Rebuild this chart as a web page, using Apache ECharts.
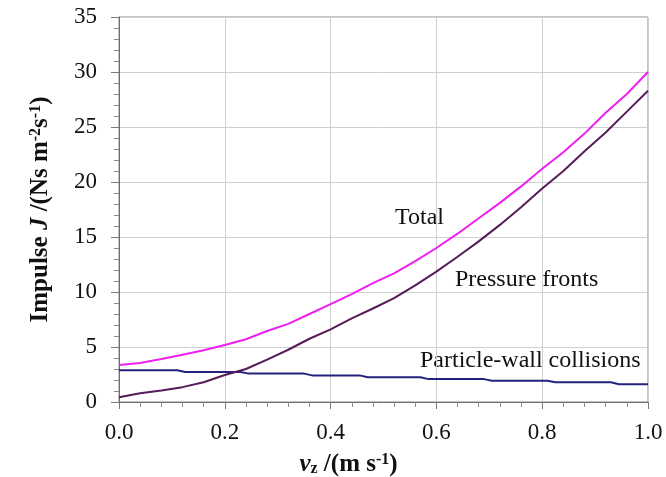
<!DOCTYPE html>
<html>
<head>
<meta charset="utf-8">
<script src="https://cdn.jsdelivr.net/npm/echarts@6/dist/echarts.min.js"></script>
<style>
  html, body { margin: 0; padding: 0; background: #fff; }
  #chart { width: 666px; height: 477px; }
</style>
</head>
<body>
<div id="chart"></div>
<script>
// v_z (m/s) sample points
var vz = [0, 0.04, 0.08, 0.12, 0.16, 0.20, 0.24, 0.28, 0.32, 0.36, 0.40, 0.44, 0.48,
          0.52, 0.56, 0.60, 0.64, 0.68, 0.72, 0.76, 0.80, 0.84, 0.88, 0.92, 0.96, 1.00];
// impulse, total
var totalJ = [3.36, 3.55, 3.9, 4.3, 4.7, 5.18, 5.7, 6.45, 7.1, 8.0, 8.9, 9.8, 10.8,
              11.7, 12.8, 14.0, 15.3, 16.7, 18.1, 19.6, 21.2, 22.7, 24.4, 26.3, 28.0, 30.0];
// impulse, pressure fronts
var pressureJ = [0.43, 0.8, 1.05, 1.35, 1.8, 2.45, 3.0, 3.85, 4.75, 5.75, 6.6, 7.6, 8.5,
                 9.45, 10.6, 11.85, 13.2, 14.6, 16.1, 17.7, 19.4, 21.0, 22.8, 24.5, 26.4, 28.3];
// particle-wall collisions (stepwise)
var wallV = [0, 0.11, 0.125, 0.23, 0.245, 0.35, 0.365, 0.455, 0.47, 0.57, 0.585, 0.69,
             0.705, 0.81, 0.825, 0.93, 0.945, 1.0];
var wallJ = [2.88, 2.88, 2.72, 2.72, 2.58, 2.58, 2.42, 2.42, 2.25, 2.25, 2.08, 2.08,
             1.94, 1.94, 1.8, 1.8, 1.62, 1.62];

var xTicks = [0, 0.2, 0.4, 0.6, 0.8, 1.0];
var yTicks = [0, 5, 10, 15, 20, 25, 30, 35];

function pairs(xs, ys) {
    var out = [];
    for (var i = 0; i < xs.length; i++) out.push([xs[i], ys[i]]);
    return out;
}

var serif = 'Liberation Serif';
var chart = echarts.init(document.getElementById('chart'));

// rich styles for the axis titles
var bold = { fontFamily: serif, fontSize: 25, fontWeight: 'bold', color: '#111' };
var boldIt = { fontFamily: serif, fontSize: 25, fontWeight: 'bold', fontStyle: 'italic', color: '#111' };
var small = function (va) {
    return { fontFamily: serif, fontSize: 16, fontWeight: 'bold', color: '#111', verticalAlign: va };
};

chart.setOption({
    animation: false,
    backgroundColor: '#fff',
    grid: {
        left: 119, right: 18, top: 17, bottom: 75,
        outerBoundsMode: 'none',
        show: true, borderColor: '#8a8a8a', borderWidth: 1
    },
    xAxis: {
        type: 'value',
        min: xTicks[0], max: xTicks[xTicks.length - 1], interval: 0.2,
        axisLine: { lineStyle: { color: '#6e6e6e', width: 1 } },
        axisTick: { show: true, inside: false, length: 7, lineStyle: { color: '#777' } },
        minorTick: { show: true, splitNumber: 5, length: 5, lineStyle: { color: '#888' } },
        splitLine: { show: true, lineStyle: { color: '#cfcfcf', width: 1 } },
        axisLabel: {
            margin: 19, color: '#111', fontFamily: serif, fontSize: 23,
            formatter: function (v) { return v.toFixed(1); }
        },
        name: '{v|v}{sub|z}{b| /(m s}{sup|-1}{b|)}',
        nameLocation: 'middle',
        nameGap: 50,
        nameTextStyle: {
            padding: [0, 70, 0, 0],
            rich: { v: boldIt, b: bold, sub: small('bottom'), sup: small('top') }
        }
    },
    yAxis: {
        type: 'value',
        min: yTicks[0], max: yTicks[yTicks.length - 1], interval: 5,
        axisLine: { show: true, lineStyle: { color: '#6e6e6e', width: 1 } },
        axisTick: { show: true, inside: false, length: 8, lineStyle: { color: '#777' } },
        minorTick: { show: true, splitNumber: 5, length: 5, lineStyle: { color: '#888' } },
        splitLine: { show: true, lineStyle: { color: '#cfcfcf', width: 1 } },
        axisLabel: { margin: 22, color: '#111', fontFamily: serif, fontSize: 23 },
        name: '{b|Impulse }{i|J}{b| /(Ns m}{sup|-2}{b|s}{sup|-1}{b|)}',
        nameLocation: 'middle',
        nameRotate: 90,
        nameGap: 66,
        nameTextStyle: {
            rich: { b: bold, i: boldIt, sup: small('top') }
        }
    },
    series: [
        {
            name: 'Particle-wall collisions', type: 'line', showSymbol: false,
            data: pairs(wallV, wallJ),
            lineStyle: { color: '#23237f', width: 2 }
        },
        {
            name: 'Pressure fronts', type: 'line', showSymbol: false,
            data: pairs(vz, pressureJ),
            lineStyle: { color: '#561b58', width: 2 }
        },
        {
            name: 'Total', type: 'line', showSymbol: false,
            data: pairs(vz, totalJ),
            lineStyle: { color: '#ee1ff0', width: 2 }
        }
    ],
    graphic: [
        { type: 'text', left: 395, top: 206, style: { text: 'Total', font: '24px "Liberation Serif"', fill: '#111' } },
        { type: 'text', left: 455, top: 268, style: { text: 'Pressure fronts', font: '24px "Liberation Serif"', fill: '#111' } },
        { type: 'text', left: 420, top: 349, style: { text: 'Particle-wall collisions', font: '24px "Liberation Serif"', fill: '#111' } }
    ]
});
</script>
</body>
</html>
